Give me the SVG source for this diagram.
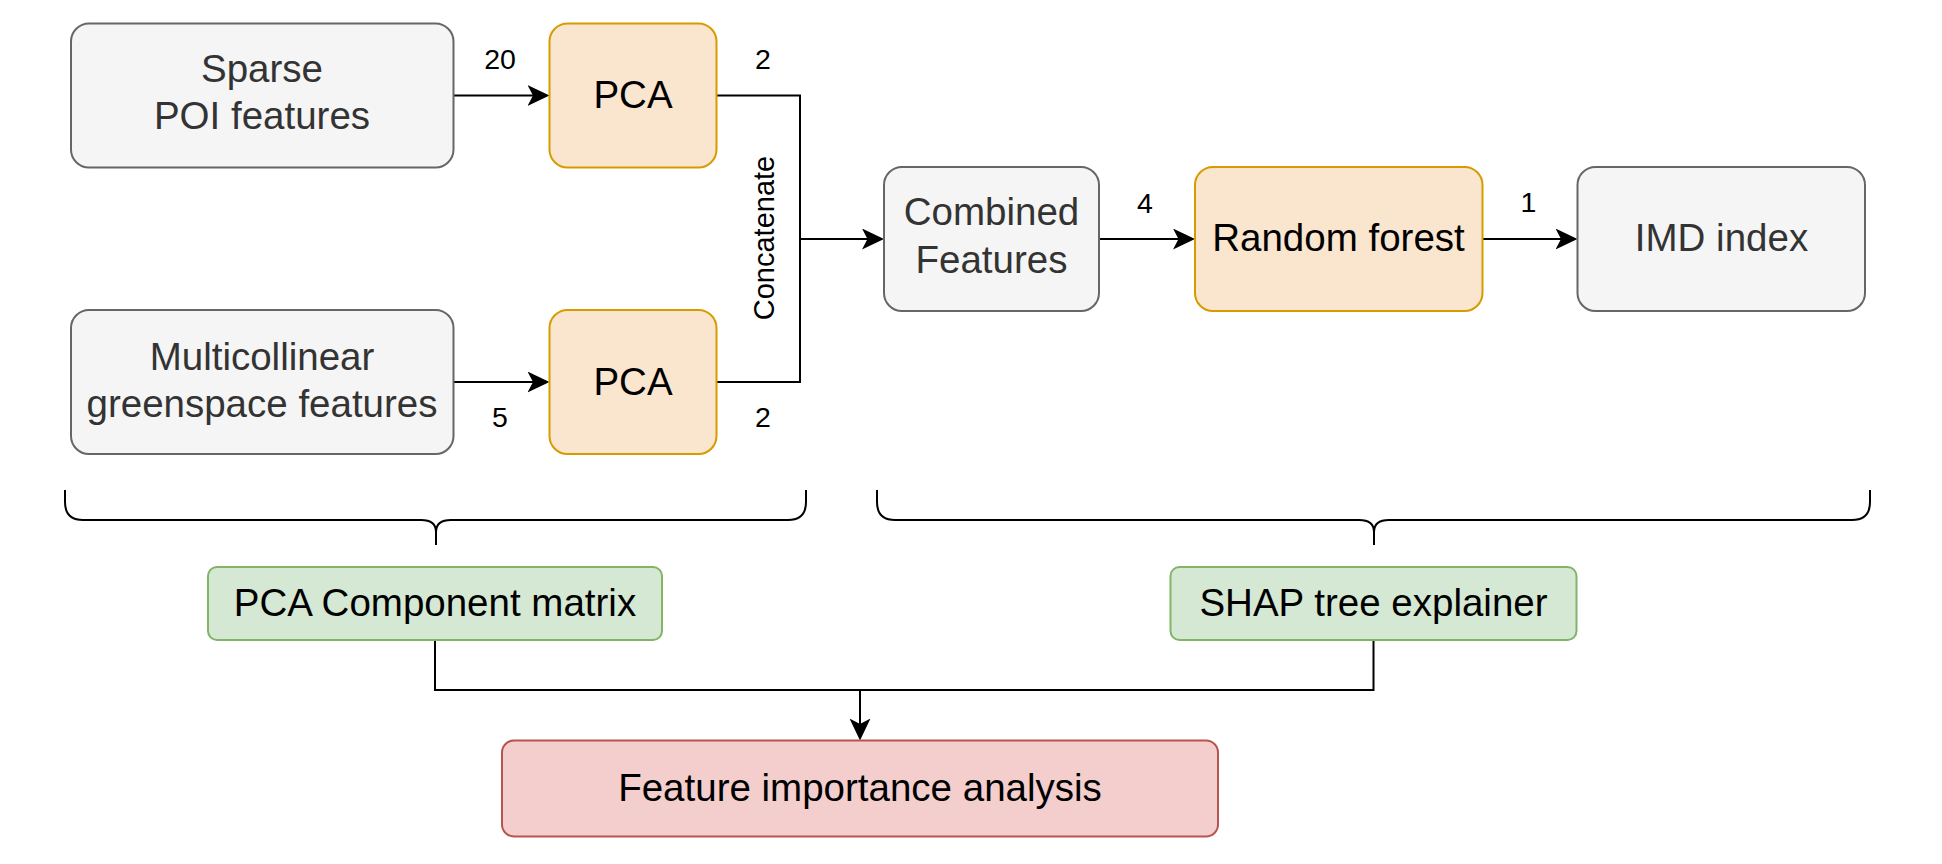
<svg xmlns="http://www.w3.org/2000/svg" width="1942" height="864" viewBox="0 0 1942 864">
<defs>
<marker id="arr" markerUnits="userSpaceOnUse" viewBox="0 0 22 21" refX="17" refY="10.5" markerWidth="22" markerHeight="21" orient="auto">
<path d="M22,10.5 L0,0 L5.5,10.5 L0,21 Z" fill="#000"/>
</marker>
</defs>
<style>
text{font-family:"Liberation Sans",Arial,Helvetica,sans-serif;}
.t{font-size:38.5px;text-anchor:middle;fill:#000;}
.tg{font-size:38.5px;text-anchor:middle;fill:#333333;}
.lbl{font-size:28.5px;text-anchor:middle;fill:#000;}
.cc{font-size:29px;text-anchor:middle;fill:#000;}
.gray{fill:#f5f5f5;stroke:#666666;stroke-width:2;}
.orange{fill:#fae5cf;stroke:#d79b00;stroke-width:2;}
.green{fill:#d5e8d4;stroke:#82b366;stroke-width:2;}
.red{fill:#f3cecc;stroke:#b85450;stroke-width:2;}
.edge{fill:none;stroke:#000;stroke-width:2;}
</style>
<rect width="1942" height="864" fill="#ffffff"/>
<g id="connectors">
<path class="edge" d="M453.5,95.5 H544.5" marker-end="url(#arr)"/>
<path class="edge" d="M453.5,382 H544.5" marker-end="url(#arr)"/>
<path class="edge" d="M716.5,95.5 H800 V239 H879" marker-end="url(#arr)"/>
<path class="edge" d="M716.5,382 H800 V239"/>
<path class="edge" d="M1099,239 H1190" marker-end="url(#arr)"/>
<path class="edge" d="M1482.5,239 H1572.5" marker-end="url(#arr)"/>
<path class="edge" d="M435,640 V690 H1373.5 V640"/>
<path class="edge" d="M860,690 V735.5" marker-end="url(#arr)"/>
<text class="lbl" x="500" y="68.5">20</text>
<text class="lbl" x="763" y="68.5">2</text>
<text class="lbl" x="500" y="426.7">5</text>
<text class="lbl" x="763" y="426.7">2</text>
<text class="lbl" x="1145" y="212.5">4</text>
<text class="lbl" x="1528.5" y="212">1</text>
<text class="cc" transform="translate(773.5,238) rotate(-90)" x="0" y="0">Concatenate</text>
</g>
<g id="brace-left">
<path class="edge" d="M65,490 V502 Q65,520 83,520 H421 Q436,520 436,532 V545 M436,532 Q436,520 451,520 H788 Q806,520 806,502 V490"/>
</g>
<g id="brace-right">
<path class="edge" d="M877,490 V502 Q877,520 895,520 H1359 Q1374,520 1374,532 V545 M1374,532 Q1374,520 1389,520 H1852 Q1870,520 1870,502 V490"/>
</g>
<g id="sparse">
<rect class="gray" x="71" y="23.5" width="382.5" height="144" rx="18"/>
<text class="tg" x="262" y="81.5">Sparse</text>
<text class="tg" x="262" y="129">POI features</text>
</g>
<g id="pca1">
<rect class="orange" x="549.5" y="23.5" width="167" height="144" rx="18"/>
<text class="t" x="633" y="108">PCA</text>
</g>
<g id="multi">
<rect class="gray" x="71" y="310" width="382.5" height="144" rx="18"/>
<text class="tg" x="262" y="370">Multicollinear</text>
<text class="tg" x="262" y="417">greenspace features</text>
</g>
<g id="pca2">
<rect class="orange" x="549.5" y="310" width="167" height="144" rx="18"/>
<text class="t" x="633" y="395">PCA</text>
</g>
<g id="combined">
<rect class="gray" x="884" y="167" width="215" height="144" rx="18"/>
<text class="tg" x="991.5" y="225">Combined</text>
<text class="tg" x="991.5" y="273">Features</text>
</g>
<g id="rf">
<rect class="orange" x="1195" y="167" width="287.5" height="144" rx="18"/>
<text class="t" x="1338.5" y="251">Random forest</text>
</g>
<g id="imd">
<rect class="gray" x="1577.5" y="167" width="287.5" height="144" rx="18"/>
<text class="tg" x="1721.5" y="251">IMD index</text>
</g>
<g id="pcamatrix">
<rect class="green" x="208" y="567" width="454" height="73" rx="9"/>
<text class="t" x="435" y="616">PCA Component matrix</text>
</g>
<g id="shap">
<rect class="green" x="1170.5" y="567" width="406" height="73" rx="9"/>
<text class="t" x="1373.5" y="616">SHAP tree explainer</text>
</g>
<g id="fia">
<rect class="red" x="502" y="740.5" width="716" height="96" rx="12"/>
<text class="t" x="860" y="801">Feature importance analysis</text>
</g>
</svg>
